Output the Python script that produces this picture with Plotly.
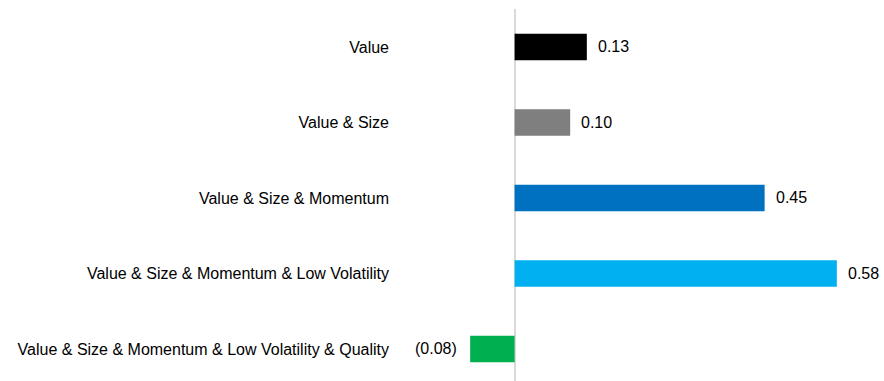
import plotly.graph_objects as go

# Factor combinations and their values
categories = [
    "Value",
    "Value & Size",
    "Value & Size & Momentum",
    "Value & Size & Momentum & Low Volatility",
    "Value & Size & Momentum & Low Volatility & Quality",
]
values = [0.13, 0.10, 0.45, 0.58, -0.08]
bar_colors = ["#000000", "#7F7F7F", "#0070C0", "#00B0F0", "#00B050"]

FONT = "Liberation Sans, Arial, sans-serif"


def fmt(v):
    return f"({abs(v):.2f})" if v < 0 else f"{v:.2f}"


fig = go.Figure(
    go.Bar(
        x=values,
        y=categories,
        orientation="h",
        marker=dict(color=bar_colors, line=dict(width=0)),
        width=0.35,
        hoverinfo="skip",
    )
)

# Value labels beside each bar
for cat, v in zip(categories, values):
    fig.add_annotation(
        x=v,
        y=cat,
        text=fmt(v),
        showarrow=False,
        xanchor="left" if v >= 0 else "right",
        xshift=9 if v >= 0 else -11,
        font=dict(family=FONT, size=16, color="#000000"),
    )

fig.update_layout(
    width=884,
    height=381,
    margin=dict(l=396, r=38, t=9, b=0),
    paper_bgcolor="white",
    plot_bgcolor="white",
    showlegend=False,
    font=dict(family=FONT, size=16, color="#000000"),
    xaxis=dict(
        range=[-0.2135, 0.5965],
        showgrid=False,
        showticklabels=False,
        ticks="",
        showline=False,
        zeroline=True,
        zerolinecolor="#D9D9D9",
        zerolinewidth=2,
    ),
    yaxis=dict(
        type="category",
        range=[4.424, -0.503],
        showgrid=False,
        showline=False,
        zeroline=False,
        ticks="",
        ticklabelstandoff=6,
        automargin=False,
    ),
)

fig.write_html("out.html")
